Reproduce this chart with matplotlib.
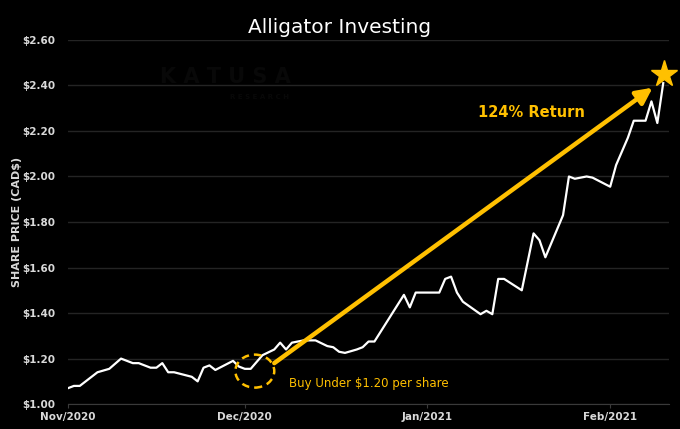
import numpy as np
import pandas as pd
import matplotlib
matplotlib.use("Agg")
import matplotlib.pyplot as plt
import matplotlib.dates as mdates
from matplotlib.patches import Ellipse

# share price
dates = ["2020-11-01", "2020-11-02", "2020-11-03", "2020-11-04", "2020-11-06",
         "2020-11-08", "2020-11-10", "2020-11-12", "2020-11-13", "2020-11-15",
         "2020-11-16", "2020-11-17", "2020-11-18", "2020-11-19", "2020-11-22",
         "2020-11-23", "2020-11-24", "2020-11-25", "2020-11-26", "2020-11-29",
         "2020-11-30", "2020-12-01", "2020-12-02", "2020-12-04", "2020-12-06",
         "2020-12-07", "2020-12-08", "2020-12-09", "2020-12-11", "2020-12-13",
         "2020-12-15", "2020-12-16", "2020-12-17", "2020-12-18", "2020-12-20",
         "2020-12-21", "2020-12-22", "2020-12-23", "2020-12-28", "2020-12-29",
         "2020-12-30", "2021-01-03", "2021-01-04", "2021-01-05", "2021-01-06",
         "2021-01-07", "2021-01-10", "2021-01-11", "2021-01-12", "2021-01-13",
         "2021-01-14", "2021-01-17", "2021-01-19", "2021-01-20", "2021-01-21",
         "2021-01-24", "2021-01-25", "2021-01-26", "2021-01-28", "2021-01-29",
         "2021-02-01", "2021-02-02", "2021-02-04", "2021-02-05", "2021-02-07",
         "2021-02-08", "2021-02-09", "2021-02-10"]
prices = [1.07, 1.08, 1.08, 1.10, 1.14,
          1.155, 1.20, 1.18, 1.18, 1.16,
          1.16, 1.18, 1.14, 1.14, 1.12,
          1.10, 1.16, 1.17, 1.15, 1.19,
          1.165, 1.155, 1.155, 1.215, 1.24,
          1.27, 1.24, 1.27, 1.28, 1.28,
          1.255, 1.25, 1.23, 1.225, 1.24,
          1.25, 1.275, 1.275, 1.48, 1.425,
          1.49, 1.49, 1.55, 1.56, 1.49,
          1.45, 1.395, 1.41, 1.395, 1.55,
          1.55, 1.50, 1.75, 1.72, 1.645,
          1.83, 2.00, 1.99, 2.00, 1.995,
          1.955, 2.05, 2.17, 2.245, 2.245,
          2.33, 2.235, 2.41]

yticks = [1.00, 1.20, 1.40, 1.60, 1.80, 2.00, 2.20, 2.40, 2.60]
month_ticks = ["2020-11-01", "2020-12-01", "2021-01-01", "2021-02-01"]

gold = "#FFC000"
tick_col = "#D9D9D9"

x = pd.to_datetime(dates)
start = pd.Timestamp("2020-11-01")

fig = plt.figure(figsize=(6.8, 4.29), dpi=100, facecolor="black")
ax = fig.add_axes([0.1, 0.058, 0.884, 0.849], facecolor="black")

# faint watermark
fig.text(0.331, 0.82, "K A T U S A", color="#080808", fontsize=15,
         fontweight="bold", ha="center", va="center")
fig.text(0.381, 0.773, "R E S E A R C H", color="#080808", fontsize=5,
         fontweight="bold", ha="center", va="center")

ax.plot(x, prices, color="white", lw=1.6, zorder=3)

# return arrow + star
ax.annotate("", xy=(start + pd.Timedelta(days=99.2), 2.39),
            xytext=(start + pd.Timedelta(days=35), 1.18),
            arrowprops=dict(arrowstyle="-|>", color=gold, lw=3.2,
                            mutation_scale=24, shrinkA=0, shrinkB=0),
            zorder=4)
ax.plot([start + pd.Timedelta(days=101.2)], [2.45], marker="*", color=gold,
        markersize=20, zorder=5, clip_on=False)
ax.text(start + pd.Timedelta(days=78.6), 2.283, "124% Return", color=gold,
        fontsize=10.5, fontweight="bold", ha="center", va="center")

# buy zone
circ = Ellipse((mdates.date2num(start + pd.Timedelta(days=31.7)), 1.145),
               width=6.6, height=0.145, fill=False, edgecolor=gold,
               lw=1.8, ls=(0, (3, 2)), zorder=4)
ax.add_patch(circ)
ax.text(start + pd.Timedelta(days=37.5), 1.092, "Buy Under $1.20 per share",
        color=gold, fontsize=8.5, ha="left", va="center")

ax.set_ylim(1.0, 2.6)
ax.set_xlim(start, pd.Timestamp("2021-02-11"))
ax.set_yticks(yticks)
ax.set_yticklabels(["${:.2f}".format(v) for v in yticks])
ax.set_xticks(pd.to_datetime(month_ticks))
ax.xaxis.set_major_formatter(mdates.DateFormatter("%b/%Y"))

ax.grid(axis="y", color="#242424", lw=1)
ax.set_axisbelow(True)
for s in ["top", "right", "left"]:
    ax.spines[s].set_visible(False)
ax.spines["bottom"].set_color("#3a3a3a")
ax.tick_params(axis="y", length=0, pad=9, labelsize=7.5, labelcolor=tick_col)
ax.tick_params(axis="x", length=3, color="#3a3a3a", pad=3, labelsize=7.5,
               labelcolor=tick_col)
for lab in ax.get_xticklabels() + ax.get_yticklabels():
    lab.set_fontweight("bold")

ax.set_ylabel("SHARE PRICE (CAD$)", color=tick_col, fontsize=8,
              fontweight="bold")
ax.yaxis.set_label_coords(-0.0765, 0.5)
fig.text(0.5, 0.937, "Alligator Investing", color="white", fontsize=14.5,
         ha="center", va="center")

fig.savefig("out.png", dpi=100, facecolor="black")
